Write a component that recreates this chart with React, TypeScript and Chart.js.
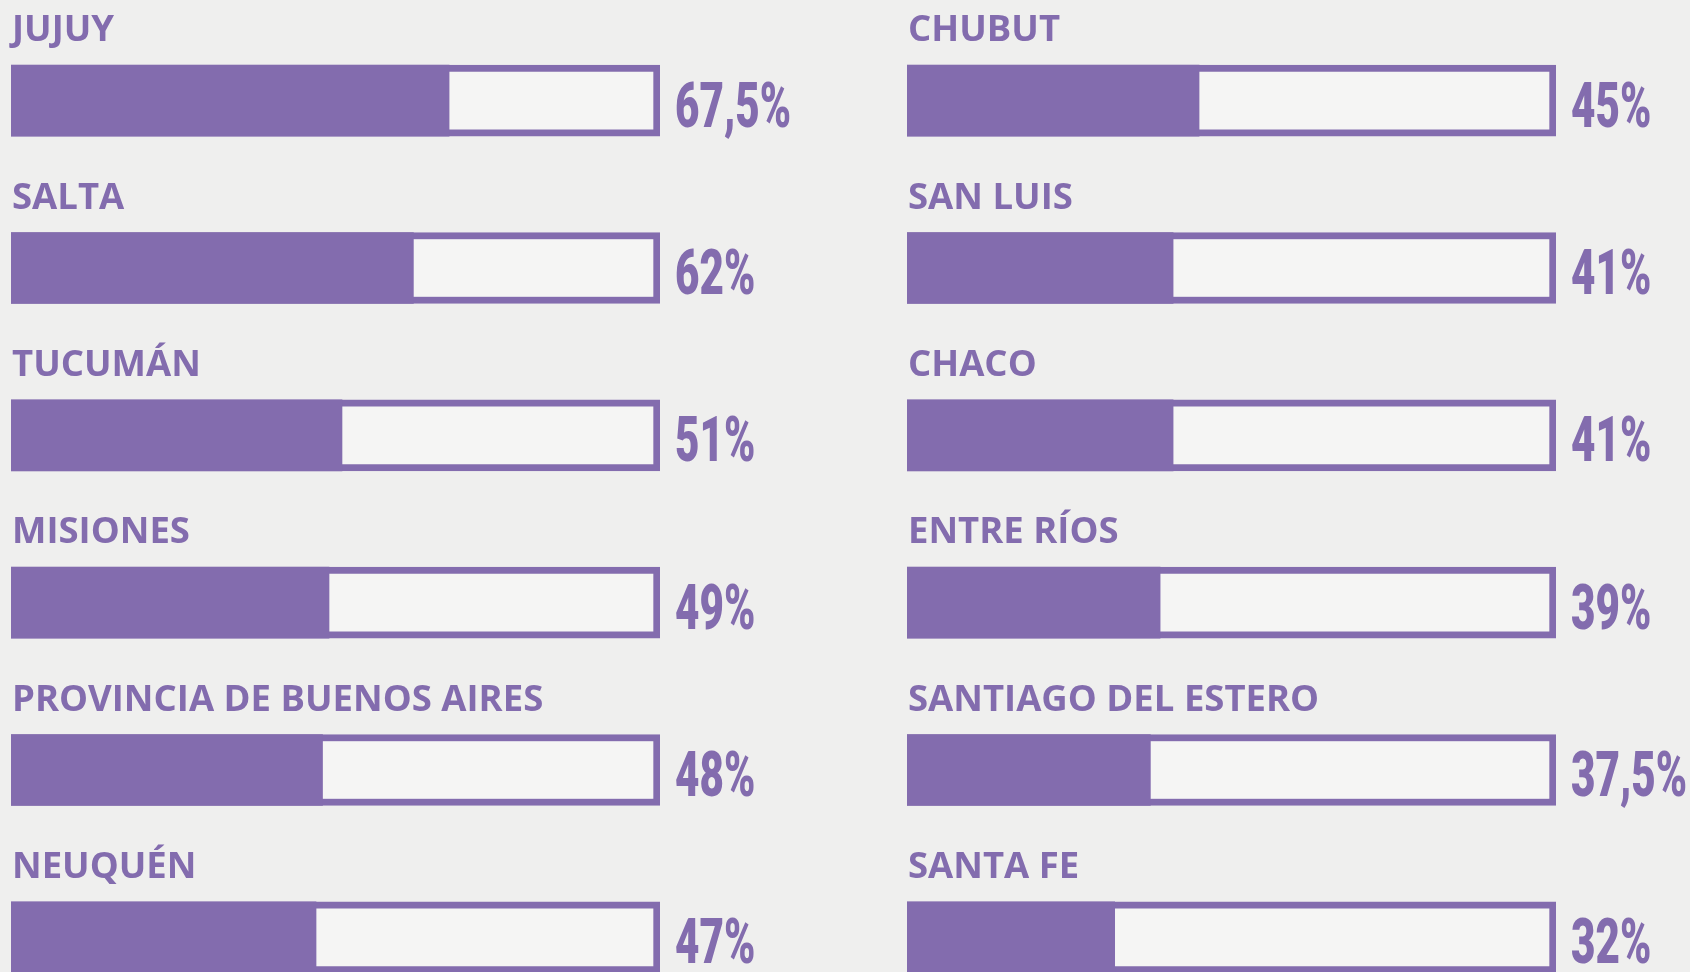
import React, { useEffect, useRef } from "react";
import { Chart, registerables } from "chart.js";

Chart.register(...registerables);

const leftProvinces = ["JUJUY", "SALTA", "TUCUMÁN", "MISIONES", "PROVINCIA DE BUENOS AIRES", "NEUQUÉN"];
const leftValues = [67.5, 62, 51, 49, 48, 47];
const rightProvinces = ["CHUBUT", "SAN LUIS", "CHACO", "ENTRE RÍOS", "SANTIAGO DEL ESTERO", "SANTA FE"];
const rightValues = [45, 41, 41, 39, 37.5, 32];
const fullScale = 100;

const PURPLE = "#836cae";
const BG = "#efefee";
const TRACK = "#f5f5f4";

const fmt = (v: number) => String(v).replace(".", ",") + "%";

const labelsPlugin = {
  id: "rowLabels",
  afterDatasetsDraw(chart: any) {
    const ctx = chart.ctx;
    const meta = chart.getDatasetMeta(1);
    const cats = chart.data.labels as string[];
    const vals = chart.data.datasets[0].data as number[];
    meta.data.forEach((el: any, i: number) => {
      const props = el.getProps(["x", "y", "base", "height"], true);
      const top = props.y - props.height / 2;
      ctx.save();
      ctx.fillStyle = PURPLE;
      ctx.font = "700 36.5px 'Open Sans'";
      ctx.textBaseline = "alphabetic";
      ctx.textAlign = "left";
      ctx.fillText(cats[i], props.base + 1, top - 24);
      ctx.restore();

      ctx.save();
      ctx.fillStyle = PURPLE;
      ctx.font = "900 63px Roboto";
      ctx.textBaseline = "alphabetic";
      ctx.textAlign = "left";
      ctx.translate(props.x + 15, props.y + 26);
      ctx.scale(0.67, 1);
      ctx.fillText(fmt(vals[i]), 0, 0);
      ctx.restore();
    });
  },
};

function Column({ labels, values, padLeft, padRight }: { labels: string[]; values: number[]; padLeft: number; padRight: number }) {
  const ref = useRef<HTMLCanvasElement | null>(null);
  useEffect(() => {
    if (!ref.current) return;
    const chart = new Chart(ref.current, {
      type: "bar",
      data: {
        labels,
        datasets: [
          {
            data: values,
            backgroundColor: PURPLE,
            borderWidth: 0,
            barThickness: 71,
            grouped: false,
            order: 0,
          } as any,
          {
            data: labels.map(() => fullScale),
            backgroundColor: TRACK,
            borderColor: PURPLE,
            borderWidth: 7,
            borderSkipped: false,
            barThickness: 71,
            grouped: false,
            order: 1,
          } as any,
        ],
      },
      options: {
        indexAxis: "y",
        animation: false,
        responsive: false,
        maintainAspectRatio: false,
        layout: { padding: { left: padLeft, right: padRight, top: 17, bottom: 19 } },
        plugins: { legend: { display: false }, tooltip: { enabled: false } },
        scales: {
          x: { min: 0, max: fullScale, display: false },
          y: { display: false, offset: true },
        },
      },
      plugins: [labelsPlugin],
    });
    return () => chart.destroy();
  }, []);
  return <canvas ref={ref} width={845} height={1040} style={{ width: 845, height: 1040, display: "block" }} />;
}

export default function App() {
  return (
    <div style={{ position: "fixed", left: 0, top: 0, width: 1690, height: 972, overflow: "hidden", background: BG }}>
      <div style={{ position: "absolute", left: 0, top: 0 }}>
        <Column labels={leftProvinces} values={leftValues} padLeft={11} padRight={185} />
      </div>
      <div style={{ position: "absolute", left: 845, top: 0 }}>
        <Column labels={rightProvinces} values={rightValues} padLeft={62} padRight={134} />
      </div>
    </div>
  );
}
